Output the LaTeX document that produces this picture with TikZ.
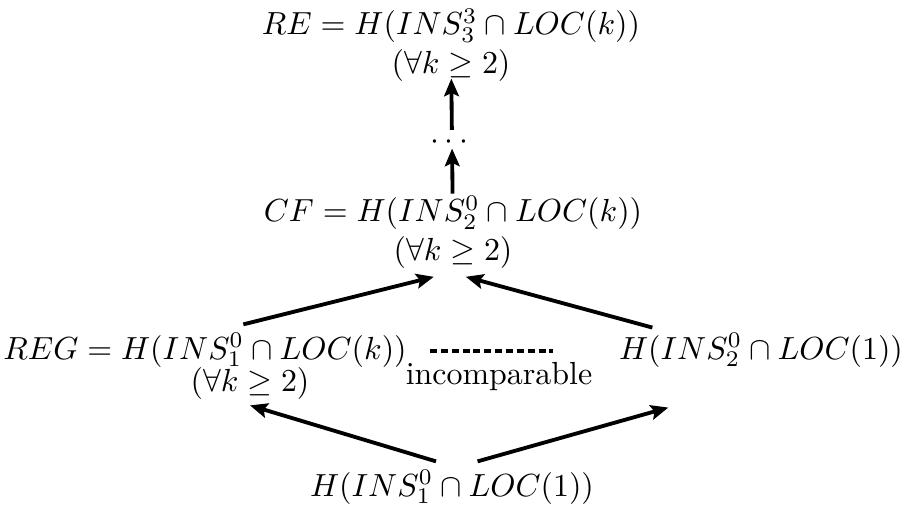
\documentclass[tikz,border=0pt]{standalone}
\usepackage{amsmath}
\usepackage{tikz}
\usetikzlibrary{arrows.meta}

\begin{document}
\begin{tikzpicture}[>={Stealth[length=5.5pt, width=4.6pt, inset=1pt]}, every node/.style={inner sep=1.5pt, align=center},
	arr/.style={->, line width=1.2pt}]
	\useasboundingbox (0,0) rectangle (9.944,5.577);
	\node (re) at (4.961,5.082) {$RE = H(INS_3^3\cap LOC(k))$\\$(\forall k\geq 2)$};
	\node (dots) at (4.972,4.010) {$\cdots$};
	\node (cf) at (4.983,3.025) {$CF = H(INS_2^0\cap LOC(k))$\\$(\forall k\geq 2)$};
	\node (reg) at (2.255,1.727) {$REG = H(INS_1^0\cap LOC(k))$};
	\node (regk) at (2.750,1.353) {$(\forall k\geq 2)$};
	\node (cmp) at (5.489,1.430) {incomparable};
	\node (h2) at (8.371,1.727) {$H(INS_2^0\cap LOC(1))$};
	\node (h1) at (4.972,0.220) {$H(INS_1^0\cap LOC(1))$};
	\draw[arr, shorten >=-2.5pt] (dots) -- (re);
	\draw[arr, shorten <=-1pt, shorten >=-2pt] (cf) -- (dots);
	\draw[arr] ([xshift=12pt,yshift=1pt]reg.north) -- ([xshift=-6pt,yshift=-1pt]cf.south);
	\draw[arr] ([xshift=-34pt,yshift=0pt]h2.north) -- ([xshift=4pt,yshift=-1pt]cf.south);
	\draw[arr] ([xshift=-5pt,yshift=1pt]h1.north) -- (regk.south);
	\draw[arr] ([xshift=8pt,yshift=1pt]h1.north) -- ([xshift=-29pt,yshift=-11pt]h2.south);
	\draw[line width=1pt, dash pattern=on 2.2pt off 1.2pt] ([xshift=-21.6pt,yshift=2pt]cmp.north) -- ([xshift=16.9pt,yshift=2pt]cmp.north);
\end{tikzpicture}
\end{document}
